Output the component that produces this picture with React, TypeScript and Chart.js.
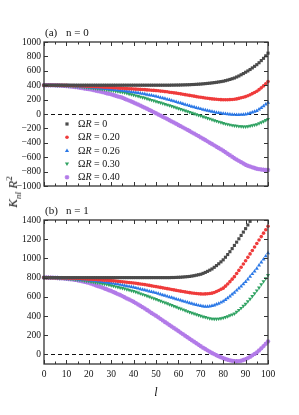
import React, { useEffect, useRef } from 'react';
import { Chart, registerables } from 'chart.js';

Chart.register(...registerables);

// angular momentum l = 0..100
const lValues: number[] = Array.from({ length: 101 }, (_, i) => i);

const xTickLabels = [0, 10, 20, 30, 40, 50, 60, 70, 80, 90, 100];
const xTickMarks = [0, 5, 10, 15, 20, 25, 30, 35, 40, 45, 50, 55, 60, 65, 70, 75, 80, 85, 90, 95, 100];
const yTicksTop = [-1000, -800, -600, -400, -200, 0, 200, 400, 600, 800, 1000];
const yTicksBottom = [0, 200, 400, 600, 800, 1000, 1200, 1400];

const omegaLabels = ['0', '0.20', '0.26', '0.30', '0.40'];

// ---------- panel (a) n = 0 ----------
const topGray = [
  400, 400, 400, 400, 400, 400, 400, 400, 400, 400,
  400, 400, 400, 400, 400, 400, 400, 400, 400, 400,
  400, 400, 400, 400, 400, 400, 400, 400, 400, 400,
  400, 400, 400, 400, 400, 400, 400, 400, 400, 400,
  400, 400, 400, 400, 400, 400, 400, 400, 400, 400,
  400, 400, 400, 400, 400, 400, 400, 401, 401, 402,
  402, 403, 404, 405, 406, 407, 409, 410, 412, 414,
  416, 419, 422, 425, 428, 432, 436, 440, 445, 450,
  455, 463, 471, 480, 490, 500, 514, 528, 545, 562,
  580, 598, 618, 640, 662, 685, 712, 742, 773, 808,
  845,
];
const topRed = [
  400, 400, 400, 399, 399, 399, 399, 398, 398, 397,
  397, 396, 395, 394, 393, 392, 391, 389, 388, 386,
  385, 383, 382, 380, 379, 377, 375, 373, 372, 370,
  368, 366, 364, 361, 359, 357, 355, 353, 351, 349,
  347, 345, 343, 342, 340, 338, 335, 333, 330, 328,
  325, 322, 318, 315, 311, 308, 303, 299, 294, 290,
  285, 280, 274, 269, 263, 258, 253, 248, 242, 237,
  232, 228, 223, 219, 214, 210, 207, 204, 202, 199,
  197, 197, 198, 200, 202, 205, 210, 217, 225, 233,
  242, 254, 268, 283, 299, 315, 338, 363, 390, 419,
  450,
];
const topBlue = [
  400, 400, 400, 399, 399, 399, 398, 397, 397, 396,
  395, 394, 392, 390, 389, 387, 385, 383, 380, 378,
  375, 372, 369, 366, 363, 360, 357, 353, 350, 346,
  342, 339, 335, 331, 328, 325, 321, 316, 312, 307,
  303, 298, 293, 288, 282, 277, 271, 264, 258, 251,
  245, 237, 229, 221, 213, 205, 196, 187, 178, 169,
  160, 151, 141, 132, 122, 113, 104, 96, 87, 79,
  70, 62, 55, 47, 40, 33, 27, 21, 16, 11,
  6, 2, -2, -5, -8, -10, -11, -11, -10, -8,
  -5, 3, 12, 22, 33, 45, 65, 87, 110, 134,
  160,
];
const topGreen = [
  400, 400, 400, 399, 399, 398, 397, 396, 395, 393,
  392, 390, 388, 386, 383, 381, 378, 375, 372, 369,
  366, 362, 359, 355, 352, 348, 344, 340, 336, 332,
  328, 323, 318, 312, 307, 302, 295, 288, 280, 273,
  265, 256, 248, 239, 231, 222, 213, 203, 194, 184,
  175, 166, 156, 147, 137, 128, 118, 108, 98, 88,
  78, 67, 57, 46, 36, 25, 15, 5, -5, -15,
  -25, -36, -46, -57, -67, -78, -88, -98, -108, -118,
  -128, -136, -143, -150, -157, -163, -167, -171, -173, -175,
  -175, -172, -166, -160, -153, -145, -132, -117, -102, -86,
  -70,
];
const topPurple = [
  400, 400, 399, 399, 398, 397, 396, 394, 392, 390,
  388, 385, 381, 378, 374, 370, 365, 360, 355, 350,
  345, 339, 332, 326, 319, 313, 305, 297, 289, 281,
  273, 263, 254, 244, 235, 225, 212, 199, 186, 173,
  160, 146, 131, 117, 102, 88, 72, 57, 41, 26,
  10, -6, -22, -38, -54, -70, -86, -103, -119, -136,
  -152, -169, -186, -203, -220, -237, -255, -272, -290, -307,
  -325, -343, -362, -380, -399, -417, -436, -454, -473, -491,
  -510, -531, -552, -573, -594, -615, -633, -651, -669, -687,
  -705, -718, -730, -741, -751, -760, -766, -771, -775, -777,
  -778,
];

// ---------- panel (b) n = 1 ----------
const botGray = [
  800, 800, 800, 800, 800, 800, 800, 800, 800, 800,
  800, 800, 800, 800, 800, 800, 800, 800, 800, 800,
  800, 800, 800, 800, 800, 800, 800, 800, 800, 800,
  800, 800, 800, 800, 800, 800, 800, 800, 800, 800,
  800, 800, 800, 800, 800, 800, 800, 800, 800, 800,
  800, 800, 800, 800, 800, 800, 800, 801, 801, 802,
  803, 804, 806, 808, 810, 812, 816, 820, 825, 830,
  835, 844, 854, 865, 877, 890, 907, 925, 944, 964,
  985, 1012, 1040, 1070, 1102, 1135, 1169, 1204, 1239, 1274,
  1310, 1348, 1386, 1424, 1462, 1500, 1546, 1593, 1641, 1690,
  1740,
];
const botRed = [
  800, 800, 800, 800, 799, 799, 799, 798, 797, 797,
  796, 795, 794, 793, 792, 791, 790, 788, 787, 785,
  784, 783, 781, 780, 778, 777, 775, 773, 772, 770,
  768, 766, 764, 761, 759, 757, 754, 752, 749, 747,
  744, 741, 737, 734, 730, 727, 723, 719, 714, 710,
  706, 702, 698, 693, 689, 685, 681, 676, 672, 667,
  663, 659, 655, 651, 647, 643, 640, 637, 634, 632,
  630, 629, 630, 632, 635, 638, 645, 655, 666, 678,
  690, 711, 733, 758, 784, 810, 842, 875, 908, 941,
  975, 1011, 1047, 1083, 1119, 1155, 1191, 1227, 1263, 1299,
  1335,
];
const botBlue = [
  800, 800, 800, 799, 799, 798, 797, 796, 795, 794,
  793, 792, 790, 789, 787, 785, 783, 781, 779, 776,
  774, 771, 769, 766, 763, 760, 757, 753, 750, 746,
  743, 739, 735, 731, 726, 722, 717, 712, 708, 703,
  698, 692, 687, 681, 676, 670, 664, 658, 652, 646,
  640, 633, 626, 619, 612, 605, 598, 591, 584, 577,
  570, 563, 556, 549, 542, 535, 529, 522, 516, 510,
  505, 501, 499, 499, 501, 505, 512, 521, 530, 541,
  553, 569, 587, 605, 625, 645, 666, 688, 710, 732,
  755, 782, 810, 838, 866, 895, 927, 959, 991, 1023,
  1055,
];
const botGreen = [
  800, 800, 799, 799, 798, 797, 796, 795, 793, 792,
  790, 788, 785, 783, 780, 778, 775, 772, 768, 765,
  762, 758, 754, 750, 746, 742, 737, 733, 728, 723,
  718, 712, 707, 701, 696, 690, 684, 677, 671, 664,
  658, 650, 642, 634, 626, 618, 609, 601, 592, 584,
  575, 566, 557, 548, 539, 530, 521, 512, 503, 494,
  485, 476, 467, 458, 449, 440, 432, 424, 416, 408,
  400, 393, 387, 381, 375, 371, 369, 369, 371, 375,
  380, 388, 396, 405, 415, 425, 443, 462, 483, 504,
  525, 551, 578, 606, 635, 665, 696, 728, 760, 792,
  825,
];
const botPurple = [
  800, 800, 799, 799, 798, 797, 796, 794, 792, 790,
  788, 785, 782, 779, 776, 772, 767, 762, 756, 751,
  745, 737, 729, 721, 713, 705, 696, 687, 678, 669,
  660, 649, 639, 628, 618, 607, 595, 583, 572, 560,
  548, 534, 520, 506, 492, 478, 463, 447, 432, 417,
  402, 386, 370, 354, 338, 322, 306, 290, 275, 259,
  243, 227, 211, 195, 179, 163, 147, 132, 116, 101,
  85, 70, 56, 42, 28, 15, 3, -9, -20, -30,
  -40, -48, -55, -62, -67, -70, -71, -70, -66, -59,
  -50, -39, -25, -10, 5, 20, 41, 63, 86, 110,
  135,
];

const COLORS = ['#4b4b4b', '#ef3b3b', '#2b78e6', '#2fa262', '#b27ae8'];
const STYLES: { style: string; radius: number; rotation: number; bw: number }[] = [
  { style: 'rect', radius: 2.2, rotation: 0, bw: 0 },
  { style: 'circle', radius: 1.8, rotation: 0, bw: 0 },
  { style: 'triangle', radius: 2.3, rotation: 0, bw: 0 },
  { style: 'triangle', radius: 2.3, rotation: 180, bw: 0 },
  { style: 'star', radius: 2.2, rotation: 0, bw: 1.2 },
];

const FONT = '"Liberation Serif", "Times New Roman", serif';

function makeDatasets(series: number[][]) {
  return series.map((vals, k) => ({
    label: 'ΩR = ' + omegaLabels[k],
    data: lValues.map((l, i) => ({ x: l, y: vals[i] })),
    showLine: false,
    pointStyle: STYLES[k].style,
    pointRadius: STYLES[k].radius,
    pointRotation: STYLES[k].rotation,
    pointBorderWidth: STYLES[k].bw,
    borderWidth: STYLES[k].bw,
    backgroundColor: COLORS[k],
    borderColor: COLORS[k],
    pointBackgroundColor: COLORS[k],
    pointBorderColor: COLORS[k],
    clip: { left: 3, right: 3, top: 0, bottom: 3 },
  }));
}

function drawMarker(ctx: CanvasRenderingContext2D, k: number, x: number, y: number) {
  ctx.save();
  ctx.fillStyle = COLORS[k];
  ctx.strokeStyle = COLORS[k];
  ctx.beginPath();
  if (k === 0) {
    ctx.fillRect(x - 1.6, y - 1.6, 3.2, 3.2);
  } else if (k === 1) {
    ctx.arc(x, y, 1.8, 0, Math.PI * 2);
    ctx.fill();
  } else if (k === 2) {
    ctx.moveTo(x, y - 2.2);
    ctx.lineTo(x - 2.1, y + 1.4);
    ctx.lineTo(x + 2.1, y + 1.4);
    ctx.closePath();
    ctx.fill();
  } else if (k === 3) {
    ctx.moveTo(x, y + 2.2);
    ctx.lineTo(x - 2.1, y - 1.4);
    ctx.lineTo(x + 2.1, y - 1.4);
    ctx.closePath();
    ctx.fill();
  } else {
    ctx.lineWidth = 1.2;
    const r = 2.3;
    for (let a = 0; a < 4; a++) {
      const ang = (a * Math.PI) / 4;
      ctx.moveTo(x - r * Math.cos(ang), y - r * Math.sin(ang));
      ctx.lineTo(x + r * Math.cos(ang), y + r * Math.sin(ang));
    }
    ctx.stroke();
  }
  ctx.restore();
}

function decorPlugin(panel: 'a' | 'b') {
  const yTicks = panel === 'a' ? yTicksTop : yTicksBottom;
  return {
    id: 'decor_' + panel,
    beforeDatasetsDraw(chart: any) {
      const { ctx, chartArea: a, scales } = chart;
      const y0 = Math.round(scales.y.getPixelForValue(0)) + 0.5;
      ctx.save();
      ctx.strokeStyle = '#111';
      ctx.lineWidth = 1;
      ctx.setLineDash([4, 3]);
      ctx.beginPath();
      ctx.moveTo(a.left, y0);
      ctx.lineTo(a.right, y0);
      ctx.stroke();
      ctx.restore();
    },
    afterDraw(chart: any) {
      const { ctx, chartArea: a, scales } = chart;
      const xs = scales.x;
      const ys = scales.y;
      ctx.save();
      ctx.strokeStyle = '#333';
      ctx.lineWidth = 1;
      ctx.beginPath();
      for (const v of xTickMarks) {
        const px = Math.round(xs.getPixelForValue(v)) + 0.5;
        const len = v % 10 === 0 ? 4 : 2.5;
        ctx.moveTo(px, a.bottom);
        ctx.lineTo(px, a.bottom - len);
        ctx.moveTo(px, a.top);
        ctx.lineTo(px, a.top + len);
      }
      for (const v of yTicks) {
        const py = Math.round(ys.getPixelForValue(v)) + 0.5;
        ctx.moveTo(a.left, py);
        ctx.lineTo(a.left + 4, py);
        ctx.moveTo(a.right, py);
        ctx.lineTo(a.right - 4, py);
      }
      ctx.stroke();
      ctx.lineWidth = 1.3;
      ctx.strokeRect(a.left, a.top, a.right - a.left, a.bottom - a.top);

      // panel label
      ctx.fillStyle = '#111';
      ctx.textBaseline = 'alphabetic';
      ctx.textAlign = 'left';
      ctx.font = '11px ' + FONT;
      const ly = a.top - 6;
      ctx.fillText(panel === 'a' ? '(a)' : '(b)', a.left + 1, ly);
      ctx.fillText(panel === 'a' ? 'n = 0' : 'n = 1', a.left + 22, ly);

      if (panel === 'a') {
        // legend
        const rowY = [124, 137.3, 150.6, 163.9, 177.2];
        for (let k = 0; k < 5; k++) {
          const yy = rowY[k];
          drawMarker(ctx, k, 67, yy);
          let tx = 78;
          ctx.textBaseline = 'middle';
          ctx.font = '10px ' + FONT;
          ctx.fillStyle = '#111';
          ctx.fillText('Ω', tx, yy + 0.5);
          tx += ctx.measureText('Ω').width;
          ctx.font = 'italic 10px ' + FONT;
          ctx.fillText('R', tx, yy + 0.5);
          tx += ctx.measureText('R').width;
          ctx.font = '10px ' + FONT;
          ctx.fillText(' = ' + omegaLabels[k], tx, yy + 0.5);
        }
      } else {
        ctx.font = 'italic 12px ' + FONT;
        ctx.textAlign = 'center';
        ctx.textBaseline = 'alphabetic';
        ctx.fillText('l', (a.left + a.right) / 2, a.bottom + 32);
      }
      ctx.restore();
    },
  };
}

function makeConfig(panel: 'a' | 'b'): any {
  const isTop = panel === 'a';
  const series = isTop
    ? [topGray, topRed, topBlue, topGreen, topPurple]
    : [botGray, botRed, botBlue, botGreen, botPurple];
  const yTicks = isTop ? yTicksTop : yTicksBottom;
  return {
    type: 'scatter',
    data: { datasets: makeDatasets(series) },
    options: {
      responsive: false,
      maintainAspectRatio: false,
      animation: false,
      devicePixelRatio: 1,
      events: [],
      layout: {
        padding: isTop
          ? { left: 0, right: 31, top: 42, bottom: 14 }
          : { left: 0, right: 31, top: 20, bottom: 0 },
      },
      plugins: { legend: { display: false }, tooltip: { enabled: false }, title: { display: false } },
      scales: {
        x: {
          type: 'linear',
          min: 0,
          max: 100,
          display: !isTop,
          grid: { display: false, drawTicks: false },
          border: { display: false },
          afterBuildTicks: (s: any) => {
            s.ticks = xTickLabels.map((v) => ({ value: v }));
          },
          afterFit: (s: any) => {
            s.height = isTop ? 0 : 51;
          },
          ticks: {
            padding: 5,
            color: '#111',
            maxRotation: 0,
            autoSkip: false,
            font: { family: FONT, size: 9.5 },
            callback: (v: number) => String(v),
          },
        },
        y: {
          type: 'linear',
          min: isTop ? -1000 : -100,
          max: isTop ? 1000 : 1400,
          grid: { display: false, drawTicks: false },
          border: { display: false },
          afterBuildTicks: (s: any) => {
            s.ticks = yTicks.map((v) => ({ value: v }));
          },
          afterFit: (s: any) => {
            s.width = 44;
          },
          ticks: {
            padding: 3,
            color: '#111',
            autoSkip: false,
            font: { family: FONT, size: 9.5 },
            callback: (v: number) => String(v).replace('-', '\u2212'),
          },
        },
      },
    },
    plugins: [decorPlugin(panel)],
  };
}

export default function App() {
  const topRef = useRef<HTMLCanvasElement>(null);
  const botRef = useRef<HTMLCanvasElement>(null);

  useEffect(() => {
    const c1 = new Chart(topRef.current as HTMLCanvasElement, makeConfig('a'));
    const c2 = new Chart(botRef.current as HTMLCanvasElement, makeConfig('b'));
    return () => {
      c1.destroy();
      c2.destroy();
    };
  }, []);

  return (
    <div
      style={{
        position: 'fixed',
        left: 0,
        top: 0,
        width: 299,
        height: 415,
        background: '#fff',
        overflow: 'hidden',
      }}
    >
      <canvas
        ref={topRef}
        width={299}
        height={200}
        style={{ position: 'absolute', left: 0, top: 0, width: 299, height: 200, display: 'block' }}
      />
      <canvas
        ref={botRef}
        width={299}
        height={215}
        style={{ position: 'absolute', left: 0, top: 200, width: 299, height: 215, display: 'block' }}
      />
      <div
        style={{
          position: 'absolute',
          left: 14,
          top: 192,
          transform: 'translate(-50%, -50%) rotate(-90deg)',
          whiteSpace: 'nowrap',
          fontFamily: FONT,
          fontSize: 13,
          color: '#111',
          lineHeight: 1,
        }}
      >
        <i>K</i>
        <sub style={{ fontSize: 9, fontStyle: 'italic' }}>nl</sub>
        <span> </span>
        <i>R</i>
        <sup style={{ fontSize: 9 }}>2</sup>
      </div>
    </div>
  );
}
